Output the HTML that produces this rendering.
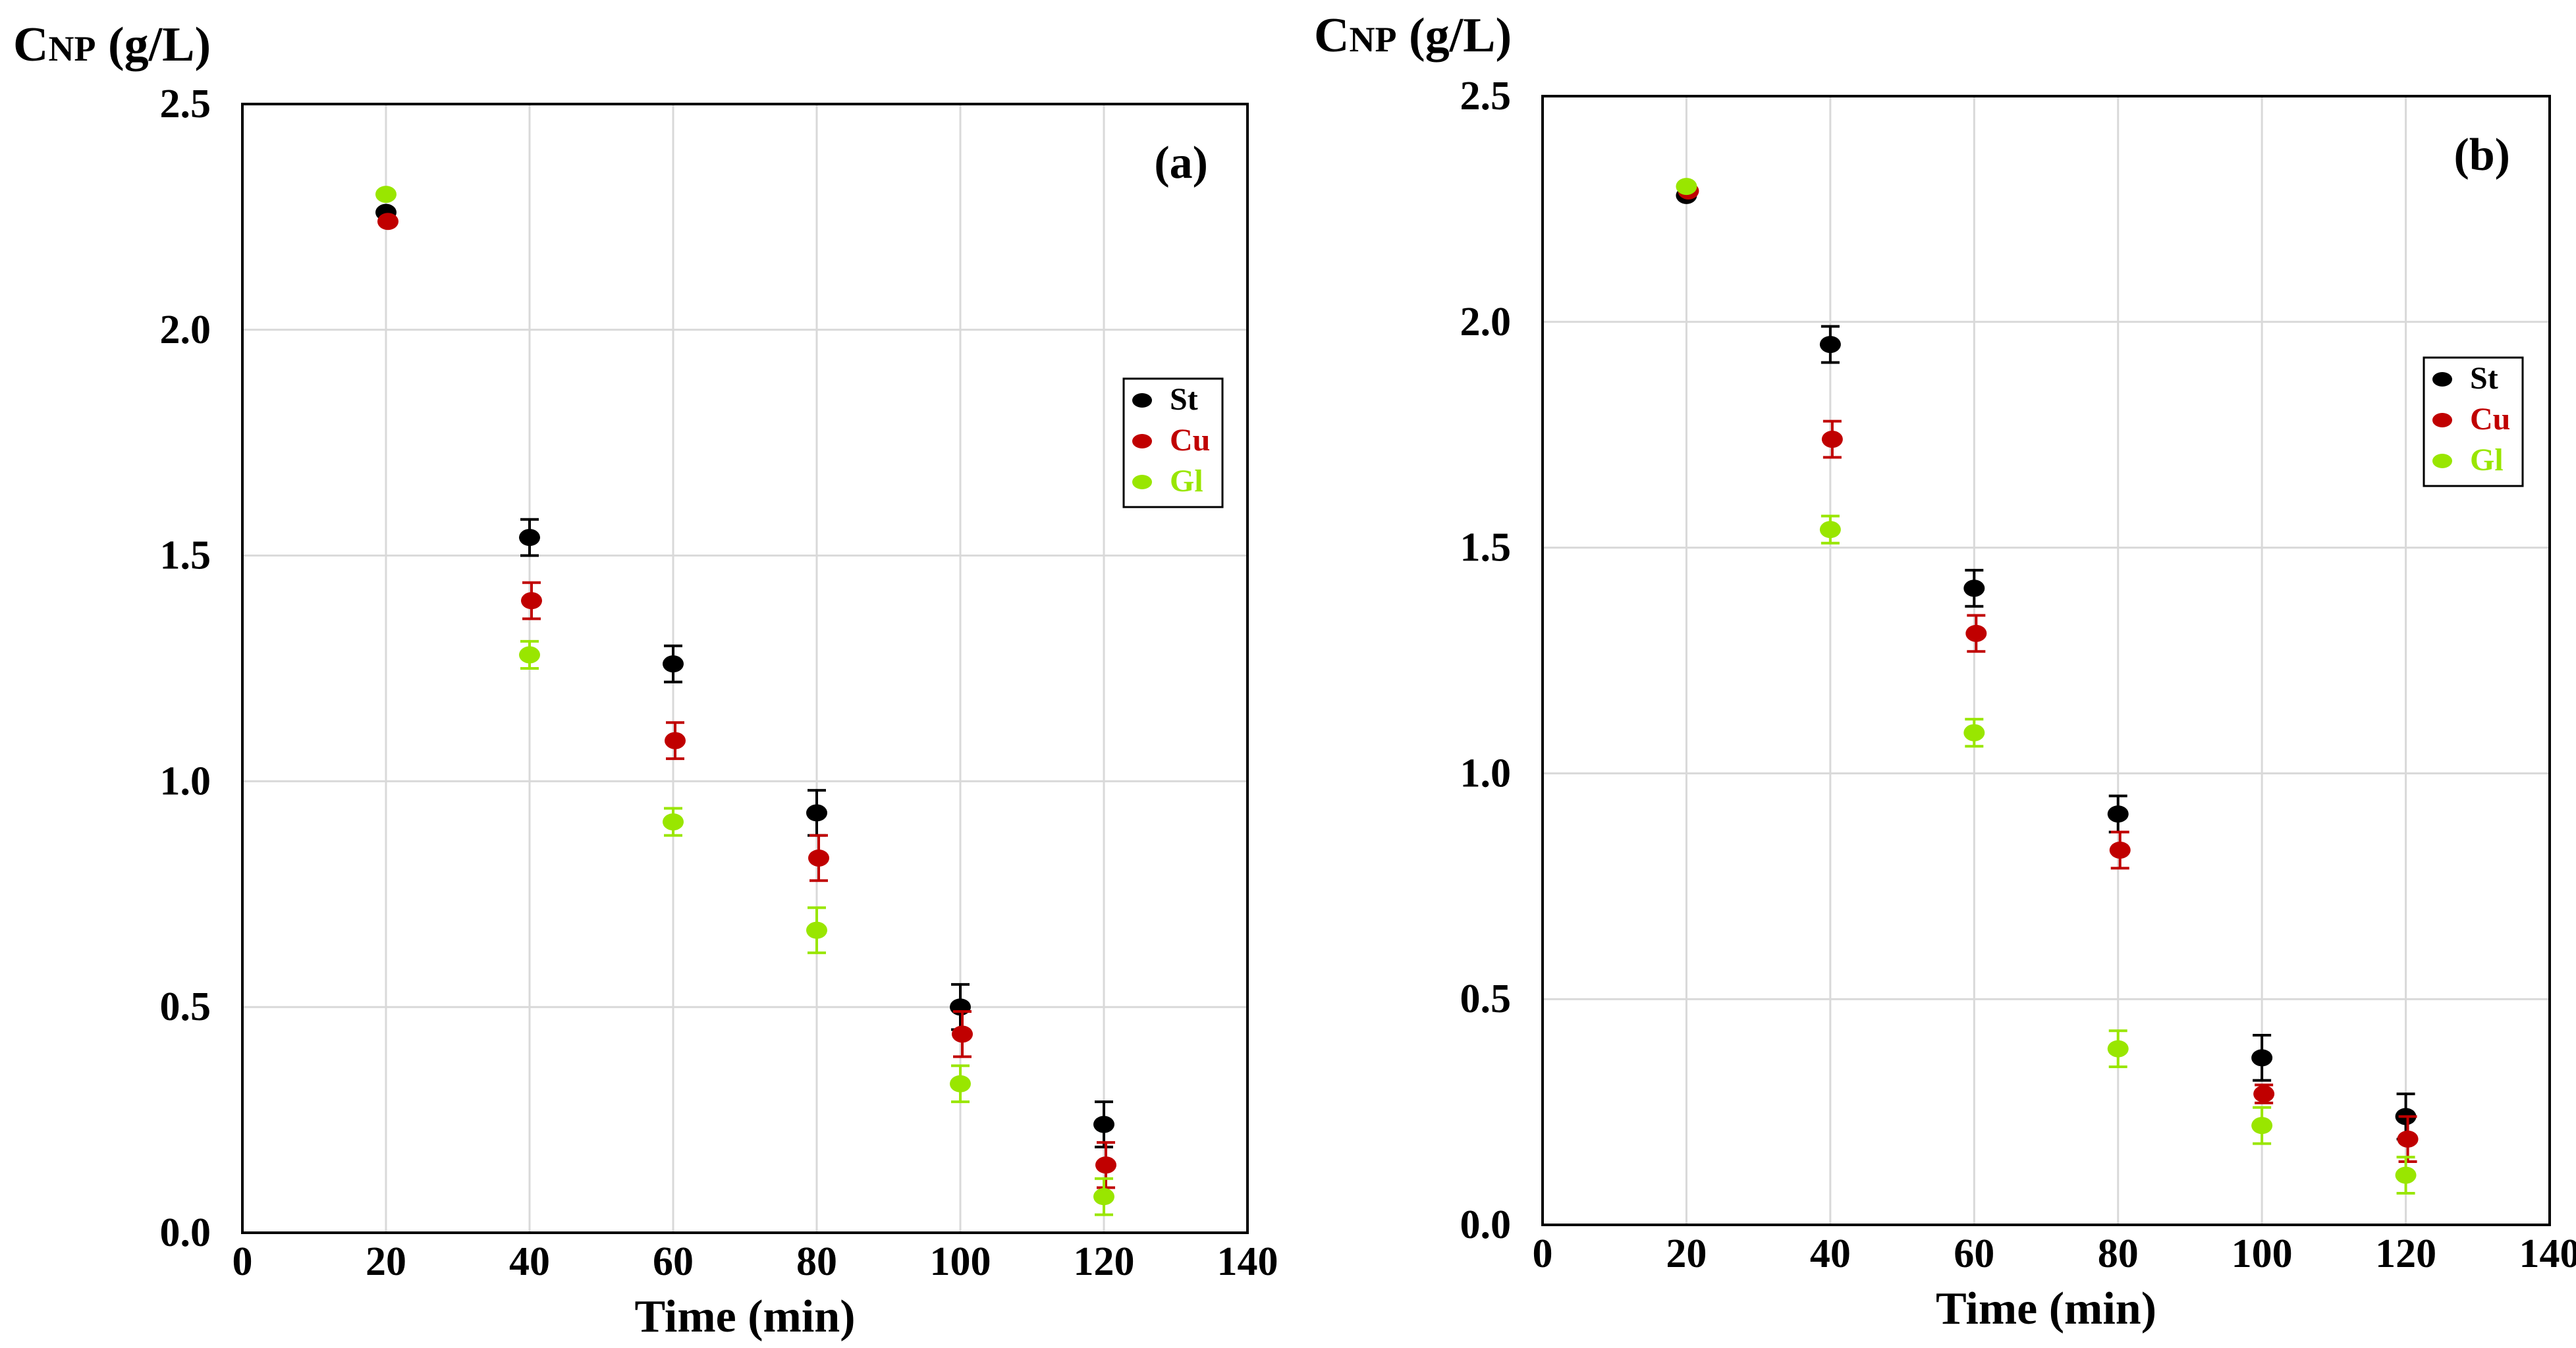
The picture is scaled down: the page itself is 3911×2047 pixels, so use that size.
<!DOCTYPE html>
<html><head><meta charset="utf-8"><style>
html,body{margin:0;padding:0;background:#fff}
svg{display:block}
text{font-family:"Liberation Serif",serif;font-weight:bold}
</style></head><body>
<svg id="chart" width="3911" height="2047" viewBox="0 0 3911 2047" xmlns="http://www.w3.org/2000/svg"></svg>
<script>
const xValues=[20,40,60,80,100,120];
const xTicks=[0,20,40,60,80,100,120,140];
const yTicks=["0.0","0.5","1.0","1.5","2.0","2.5"];
const seriesNames=["St","Cu","Gl"];
const seriesColors=["#000000","#c00000","#99e600"];
const aSt=[2.26,1.54,1.26,0.93,0.50,0.24];
const aCu=[2.24,1.40,1.09,0.83,0.44,0.15];
const aGl=[2.30,1.28,0.91,0.67,0.33,0.08];
const aStErr=[0,0.04,0.04,0.05,0.05,0.05];
const aCuErr=[0,0.04,0.04,0.05,0.05,0.05];
const aGlErr=[0,0.03,0.03,0.05,0.04,0.04];
const bSt=[2.28,1.95,1.41,0.91,0.37,0.24];
const bCu=[2.29,1.74,1.31,0.83,0.29,0.19];
const bGl=[2.30,1.54,1.09,0.39,0.22,0.11];
const bStErr=[0,0.04,0.04,0.04,0.05,0.05];
const bCuErr=[0,0.04,0.04,0.04,0.02,0.05];
const bGlErr=[0,0.03,0.03,0.04,0.04,0.04];

const svg=document.getElementById('chart');
const NS='http://www.w3.org/2000/svg';
function mk(tag,attrs,parent){const e=document.createElementNS(NS,tag);for(const k in attrs)e.setAttribute(k,attrs[k]);(parent||svg).appendChild(e);return e;}

function panel(p){
  const g=mk('g',{});
  
  
  const sx=v=>p.L+(v-0)/140*(p.R-p.L);
  const sy=v=>p.B-(v/2.5)*(p.B-p.T);
  xTicks.forEach(t=>{if(t>0&&t<140){const l=mk('line',{x1:sx(t),x2:sx(t),y1:p.T,y2:p.B,stroke:'#d9d9d9','stroke-width':3},g);
    
    }});
  yTicks.forEach(t=>{const v=parseFloat(t);if(v>0&&v<2.5){const l=mk('line',{x1:p.L,x2:p.R,y1:sy(v),y2:sy(v),stroke:'#d9d9d9','stroke-width':3},g);
    
    }});
  const fr=mk('rect',{x:p.L,y:p.T,width:p.R-p.L,height:p.B-p.T,fill:'none',stroke:'#000','stroke-width':4},g);
  
  
  xTicks.forEach(t=>{const tx=mk('text',{x:sx(t),y:p.B+64,'font-size':62,'text-anchor':'middle'},g);tx.textContent=t;
    
    });
  yTicks.forEach(t=>{const tx=mk('text',{x:p.L-48,y:sy(parseFloat(t))+20,'font-size':62,'text-anchor':'end'},g);tx.textContent=t;
    
    });
  const xt=mk('text',{x:(p.L+p.R)/2,y:p.B+150,'font-size':70,'text-anchor':'middle'},g);xt.textContent='Time (min)';
  
  
  const yt=mk('text',{x:p.ytx,y:p.yty,'font-size':74},g);
  yt.innerHTML='C<tspan font-size="54">NP</tspan> (g/L)';
  
  
  const lab=mk('text',{x:p.R-60,y:p.T+112,'font-size':70,'text-anchor':'end'},g);lab.textContent='('+p.id+')';
  
  
  p.series.forEach((s,i)=>{
    const sg=mk('g',{},g);
    
    
    s.v.forEach((v,j)=>{
      const cx=sx(xValues[j])+(i===1?3:0), cy=sy(v);
      if(s.e[j]>0){
        const y1=sy(v+s.e[j]),y2=sy(v-s.e[j]);
        const eb=mk('path',{d:`M${cx},${y1}V${y2}M${cx-14},${y1}H${cx+14}M${cx-14},${y2}H${cx+14}`,stroke:seriesColors[i],'stroke-width':4,fill:'none'},sg);
        
        
      }
      const m=mk('ellipse',{cx:cx,cy:cy,rx:16,ry:13,fill:seriesColors[i]},sg);
      
      
    });
  });
  const lg=mk('g',{},g);
  
  
  mk('rect',{x:p.lx,y:p.ly,width:150,height:195,fill:'#fff',stroke:'#000','stroke-width':3},lg);
  seriesNames.forEach((n,i)=>{
    const ey=p.ly+33+i*62;
    const e=mk('ellipse',{cx:p.lx+28,cy:ey,rx:15,ry:11,fill:seriesColors[i]},lg);
    
    
    const t=mk('text',{x:p.lx+70,y:ey+14,'font-size':48,fill:seriesColors[i]},lg);t.textContent=n;
    
    
  });
}
panel({id:'a',L:368,R:1894,T:158,B:1872,ytx:20,yty:92,lx:1706,ly:575,
  series:[{v:aSt,e:aStErr},{v:aCu,e:aCuErr},{v:aGl,e:aGlErr}]});
panel({id:'b',L:2342,R:3871,T:146,B:1860,ytx:1995,yty:78,lx:3680,ly:543,
  series:[{v:bSt,e:bStErr},{v:bCu,e:bCuErr},{v:bGl,e:bGlErr}]});
</script>
</body></html>
